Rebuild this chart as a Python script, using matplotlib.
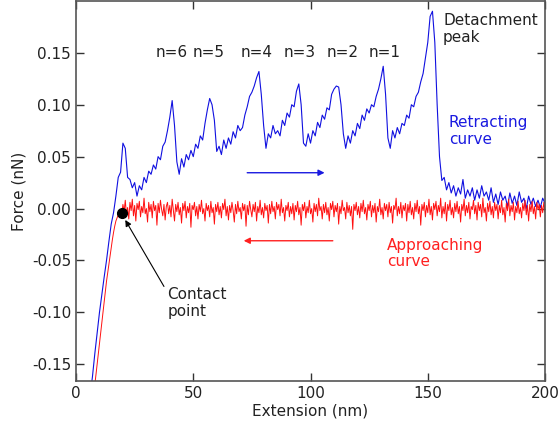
import numpy as np
import matplotlib
matplotlib.use("Agg")
import matplotlib.pyplot as plt

# retracting curve (blue), one sample per nm from 6 nm
retract_start = 6
retract_step = 1.0
retract_force = [
    -0.180, -0.162, -0.140, -0.120, -0.100, -0.083, -0.066, -0.050, -0.032, -0.015,
    -0.004, 0.012, 0.030, 0.035, 0.063, 0.058, 0.030, 0.028, 0.020, 0.025,
    0.012, 0.022, 0.018, 0.030, 0.025, 0.036, 0.033, 0.042, 0.038, 0.050,
    0.047, 0.060, 0.064, 0.075, 0.088, 0.104, 0.080, 0.045, 0.033, 0.048,
    0.040, 0.052, 0.047, 0.056, 0.050, 0.062, 0.058, 0.070, 0.066, 0.082,
    0.095, 0.106, 0.100, 0.085, 0.055, 0.060, 0.052, 0.066, 0.058, 0.068,
    0.062, 0.074, 0.068, 0.080, 0.075, 0.078, 0.090, 0.098, 0.108, 0.112,
    0.118, 0.126, 0.132, 0.110, 0.080, 0.058, 0.072, 0.068, 0.080, 0.072,
    0.075, 0.070, 0.085, 0.080, 0.092, 0.088, 0.100, 0.098, 0.113, 0.120,
    0.100, 0.063, 0.060, 0.072, 0.063, 0.075, 0.070, 0.083, 0.078, 0.090,
    0.086, 0.097, 0.095, 0.110, 0.115, 0.118, 0.117, 0.100, 0.072, 0.058,
    0.070, 0.063, 0.075, 0.070, 0.082, 0.077, 0.090, 0.085, 0.096, 0.092,
    0.100, 0.098, 0.108, 0.115, 0.125, 0.137, 0.110, 0.068, 0.058, 0.075,
    0.068, 0.078, 0.072, 0.082, 0.080, 0.090, 0.087, 0.100, 0.098, 0.108,
    0.112, 0.122, 0.130, 0.145, 0.160, 0.185, 0.190, 0.160, 0.100, 0.050,
    0.027, 0.030, 0.018, 0.025, 0.015, 0.022, 0.012, 0.020, 0.014, 0.028,
    0.010, 0.018, 0.012, 0.020, 0.008, 0.018, 0.010, 0.022, 0.012, 0.016,
    0.008, 0.020, 0.006, 0.014, 0.004, 0.016, 0.008, 0.012, 0.002, 0.015,
    0.005, 0.012, 0.003, 0.016, 0.006, 0.010, 0.000, 0.012, 0.004, 0.010,
    0.002, 0.008, 0.001, 0.010, 0.005,
]

# approaching curve (red), one sample per half nm from 8 nm
approach_start = 8
approach_step = 0.5
approach_force = [
    -0.170, -0.160, -0.150, -0.140, -0.130, -0.120, -0.110, -0.100, -0.090, -0.080,
    -0.070, -0.062, -0.054, -0.046, -0.038, -0.030, -0.023, -0.017, -0.012, -0.009,
    -0.006, -0.008, -0.003, -0.006,
    0.004, -0.003, 0.008, -0.006, 0.001, -0.010, 0.006, -0.002, 0.009, -0.007,
    0.003, -0.012, 0.005, -0.001, 0.007, -0.008, 0.002, -0.004, 0.010, -0.005,
    0.000, -0.013, 0.006, -0.003, 0.004, -0.009, 0.007, -0.002, 0.003, -0.016,
    0.005, -0.004, 0.008, -0.001, -0.007, 0.004, -0.011, 0.002, 0.006, -0.005,
    0.003, -0.008, 0.009, -0.002, -0.012, 0.004, -0.003, 0.006, -0.006, 0.001,
    -0.014, 0.005, -0.002, 0.007, -0.009, 0.002, -0.004, 0.005, -0.018, 0.003,
    -0.001, 0.006, -0.007, 0.002, -0.010, 0.004, -0.003, 0.008, -0.005, 0.000,
    -0.012, 0.005, -0.002, 0.003, -0.008, 0.007, -0.004, 0.001, -0.015, 0.004,
    -0.003, 0.006, -0.006, 0.002, -0.009, 0.005, -0.001, 0.009, -0.007, 0.002,
    -0.011, 0.003, -0.004, 0.006, -0.002, -0.013, 0.004, -0.005, 0.007, -0.003,
    0.001, -0.010, 0.005, -0.002, 0.004, -0.017, 0.003, -0.006, 0.007, -0.001,
    -0.008, 0.004, -0.003, 0.006, -0.012, 0.002, -0.004, 0.008, -0.006, 0.001,
    -0.009, 0.005, -0.002, 0.003, -0.014, 0.004, -0.005, 0.007, -0.003, 0.002,
    -0.010, 0.006, -0.001, 0.004, -0.007, 0.009, -0.004, 0.001, -0.012, 0.003,
    -0.002, 0.006, -0.008, 0.002, -0.005, 0.005, -0.011, 0.003, -0.003, 0.007,
    -0.006, 0.001, -0.016, 0.004, -0.002, 0.006, -0.009, 0.002, -0.004, 0.008,
    -0.005, 0.000, -0.013, 0.005, -0.003, 0.004, -0.007, 0.010, -0.002, 0.002,
    -0.010, 0.004, -0.004, 0.006, -0.006, 0.001, -0.012, 0.005, -0.001, 0.007,
    -0.008, 0.003, -0.003, 0.005, -0.015, 0.002, -0.005, 0.008, -0.002, 0.001,
    -0.010, 0.006, -0.004, 0.003, -0.007, 0.002, -0.020, 0.004, -0.002, 0.006,
    -0.006, 0.002, -0.009, 0.005, -0.003, 0.008, -0.005, 0.001, -0.011, 0.004,
    -0.002, 0.007, -0.008, 0.003, -0.004, 0.005, -0.013, 0.002, -0.003, 0.009,
    -0.006, 0.001, -0.010, 0.005, -0.002, 0.004, -0.008, 0.006, -0.004, 0.002,
    -0.014, 0.003, -0.001, 0.010, -0.007, 0.002, -0.005, 0.006, -0.009, 0.003,
    -0.002, 0.005, -0.012, 0.004, -0.004, 0.007, -0.006, 0.001, -0.010, 0.005,
    -0.003, 0.008, -0.005, 0.002, -0.016, 0.004, -0.002, 0.006, -0.008, 0.003,
    -0.004, 0.009, -0.006, 0.002, -0.011, 0.005, -0.001, 0.007, -0.007, 0.003,
    -0.003, 0.010, -0.009, 0.002, -0.005, 0.006, -0.012, 0.004, -0.002, 0.008,
    -0.006, 0.001, -0.009, 0.005, -0.003, 0.007, -0.005, 0.002, -0.013, 0.004,
    -0.002, 0.009, -0.007, 0.003, -0.004, 0.006, -0.010, 0.002, -0.001, 0.008,
    -0.005, 0.003, -0.011, 0.006, -0.002, 0.004, -0.008, 0.010, -0.004, 0.001,
    -0.012, 0.005, -0.003, 0.007, -0.006, 0.002, -0.009, 0.006, -0.002, 0.004,
    -0.010, 0.003, -0.004, 0.008, -0.006, 0.001, -0.013, 0.005, -0.002, 0.009,
    -0.007, 0.003, -0.003, 0.006, -0.011, 0.002, -0.004, 0.007, -0.005, 0.001,
    -0.009, 0.005, -0.002, 0.008, -0.006, 0.003, -0.012, 0.004, -0.003, 0.007,
    -0.005, 0.002, -0.010, 0.006, -0.001, 0.004, -0.008, 0.003, -0.004, 0.006,
    -0.003,
]

contact_point = (19.7, -0.004)
unfold_labels = ["n=6", "n=5", "n=4", "n=3", "n=2", "n=1"]
unfold_label_x = [41, 56.5, 77, 95.5, 113.5, 131.5]

retract_x = retract_start + retract_step * np.arange(len(retract_force))
approach_x = approach_start + approach_step * np.arange(len(approach_force))

plt.rcParams["font.family"] = ["DejaVu Sans"]
fig = plt.figure(figsize=(5.59, 4.29), dpi=100)
ax = fig.add_axes([0.136, 0.112, 0.839, 0.886])

ax.plot(retract_x, retract_force, color="#1010e0", lw=0.8)
ax.plot(approach_x, approach_force, color="#ff1010", lw=0.7)
ax.plot(*contact_point, "o", color="black", ms=7, zorder=5)

ax.set_xlim(0, 200)
ax.set_ylim(-0.166, 0.2)
ax.set_xticks([0, 50, 100, 150, 200])
ax.set_yticks([-0.15, -0.10, -0.05, 0.00, 0.05, 0.10, 0.15])
ax.set_yticklabels(["-0.15", "-0.10", "-0.05", "0.00", "0.05", "0.10", "0.15"])
ax.tick_params(direction="in", length=6, width=1, top=True, right=True,
               labelsize=11, colors="#333333", labelcolor="#222222")
for s in ax.spines.values():
    s.set_color("#555555")
    s.set_linewidth(1.2)

ax.set_xlabel("Extension (nm)", fontsize=11, color="#222222", labelpad=2)
ax.set_ylabel("Force (nN)", fontsize=11, color="#222222", labelpad=4)

for lab, xv in zip(unfold_labels, unfold_label_x):
    ax.text(xv, 0.15, lab, ha="center", va="center", fontsize=11, color="#222222")

ax.text(156.5, 0.1885, "Detachment\npeak", ha="left", va="top", fontsize=11,
        color="#222222", linespacing=1.15)
ax.text(159, 0.090, "Retracting\ncurve", ha="left", va="top", fontsize=11,
        color="#1a1ae0", linespacing=1.15)
ax.text(132.5, -0.028, "Approaching\ncurve", ha="left", va="top", fontsize=11,
        color="#ff2020", linespacing=1.15)
ax.text(39, -0.076, "Contact\npoint", ha="left", va="top", fontsize=11,
        color="#222222", linespacing=1.15)

ax.annotate("", xy=(106, 0.0345), xytext=(73, 0.0345),
            arrowprops=dict(arrowstyle="-|>", color="#1a1ae0", lw=1,
                            mutation_scale=9, shrinkA=0, shrinkB=0))
ax.annotate("", xy=(71.5, -0.031), xytext=(109.5, -0.031),
            arrowprops=dict(arrowstyle="-|>", color="#ff2020", lw=1,
                            mutation_scale=9, shrinkA=0, shrinkB=0))
ax.annotate("", xy=(21, -0.011), xytext=(37.5, -0.075),
            arrowprops=dict(arrowstyle="-|>", color="black", lw=0.8,
                            mutation_scale=9, shrinkA=0, shrinkB=0))

fig.savefig("out.png", dpi=100)
